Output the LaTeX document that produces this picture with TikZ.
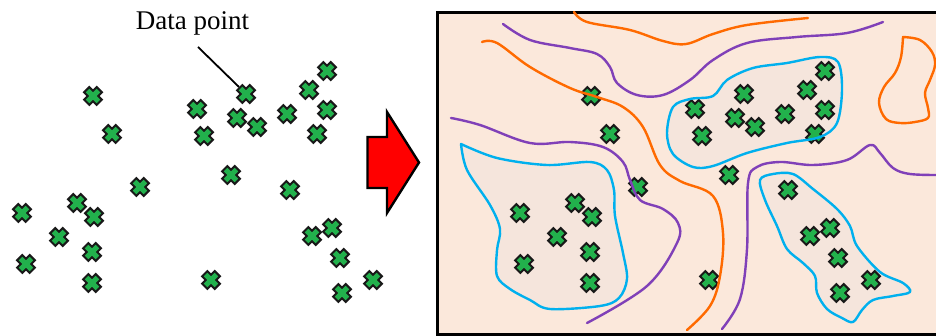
\documentclass[tikz,border=0pt]{standalone}
\usepackage{fontspec}
\setmainfont{Liberation Serif}
\definecolor{ptgreen}{HTML}{22B14C}
\definecolor{panelbg}{HTML}{FBE8DB}
\definecolor{clusterbg}{HTML}{F5E5DC}
\definecolor{bndorange}{HTML}{FF6A00}
\definecolor{bndpurple}{HTML}{8040B8}
\definecolor{bndblue}{HTML}{00B0EE}
\tikzset{
  datapt/.pic={
    \draw[black!90, line width=9.4pt] (-7,-7) -- (7,7) (-7,7) -- (7,-7);
    \draw[ptgreen, line width=5pt] (-5.4,-5.4) -- (5.4,5.4) (-5.4,5.4) -- (5.4,-5.4);
  },
  bnd/.style={line width=2.4pt, line cap=round, line join=round},
  cluster/.style={bnd, draw=bndblue},
}
% scatter positions (x/y, y measured downwards)
\def\ptlist{93/96, 112/134, 197/109, 204/136, 246/94, 237/118, 257/127,
  287/114, 309/90, 327/71, 327/110, 317/134, 140/187, 231/175, 290/190,
  22/213, 77/203, 94/217, 59/237, 92/252, 26/264, 92/283, 211/280,
  312/236, 332/228, 340/258, 373/280, 342/293}
\begin{document}
\begin{tikzpicture}[x=1pt, y=-1pt]
\useasboundingbox (0,0) rectangle (936,336);

% ---- raw data ----
\node[font=\fontsize{27}{30}\selectfont, anchor=base] (lbl) at (192.5,29.3) {Data point};
\foreach \px/\py in \ptlist { \pic at (\px,\py) {datapt}; }
\coordinate (ptend) at (239,87);
\draw[line width=1.8pt] (198,47) -- (ptend);

% ---- arrow ----
\draw[fill=red, line width=2.4pt, line join=miter]
  (367.5,137) -- (387,137) -- (387,112) -- (419,162.5) -- (387,213)
  -- (387,188) -- (367.5,188) -- cycle;

% ---- clustered data ----
\draw[line width=2.8pt, fill=panelbg] (437.5,12.5) rectangle (950,334.5);

% cluster regions
\fill[clusterbg] plot[smooth, tension=0.55] coordinates {(461,144) (497,158) (547,165) (590,162) (607,170) (614,190) (615,216) (623,253) (627,279) (619,298) (600,306) (550,309) (530,300) (510,289) (497,276) (497,250) (500,229) (490,205) (467,170) (461,144)} -- cycle;
\fill[clusterbg] plot[smooth cycle, tension=0.55] coordinates {(673,107) (690,99) (713,96) (727,80) (753,68) (787,63) (820,57) (838,62) (842,90) (837,123) (820,137) (787,143) (747,153) (713,166) (693,167) (673,154) (667,133)};
\fill[clusterbg] plot[smooth cycle, tension=0.55] coordinates {(760,180) (773,174) (793,174) (813,189) (837,209) (850,226) (857,246) (880,272) (903,283) (910,292) (893,296) (873,300) (862,310) (853,322) (842,318) (827,309) (817,293) (815,276) (803,263) (787,249) (777,226) (765,200)};

\foreach \px/\py in \ptlist { \pic at ({\px+498},\py) {datapt}; }

% orange boundaries
\draw[bnd, bndorange] plot[smooth, tension=0.6] coordinates {(574,12) (587,22) (630,30) (663,41) (686,44) (713,34) (747,25) (808,18)};
\draw[bnd, bndorange] plot[smooth, tension=0.6] coordinates {(482,42) (497,43) (530,67) (570,88) (597,97) (623,107) (643,127) (660,165) (680,181) (713,196) (723,233) (720,276) (710,306) (687,330)};
\draw[bnd, bndorange] plot[smooth, tension=0.6] coordinates {(903,37) (920,40) (932,52) (935,65) (930,80) (925,93) (928,108) (928,118) (915,122) (900,123) (886,119) (879,103) (884,87) (895,73) (901,57) (903,37)} -- cycle;

% purple boundaries
\draw[bnd, bndpurple] plot[smooth, tension=0.6] coordinates {(503,24) (530,40) (570,48) (597,54) (610,67) (617,83) (637,95) (663,95) (690,80) (713,60) (747,43) (797,37) (847,33) (883,22)};
\draw[bnd, bndpurple] plot[smooth, tension=0.6] coordinates {(451,118) (480,125) (530,143) (570,142) (603,147) (623,162) (630,180) (640,200) (663,209) (678,223) (677,243) (647,286) (587,323)};
\draw[bnd, bndpurple] plot[smooth, tension=0.6] coordinates {(722,329) (740,299) (747,249) (748,183) (757,167) (780,162) (813,165) (847,160) (870,145) (880,153) (893,168) (910,174) (940,175)};

% cluster outlines
\draw[cluster] plot[smooth, tension=0.55] coordinates {(461,144) (497,158) (547,165) (590,162) (607,170) (614,190) (615,216) (623,253) (627,279) (619,298) (600,306) (550,309) (530,300) (510,289) (497,276) (497,250) (500,229) (490,205) (467,170) (461,144)} -- cycle;
\draw[cluster] plot[smooth cycle, tension=0.55] coordinates {(673,107) (690,99) (713,96) (727,80) (753,68) (787,63) (820,57) (838,62) (842,90) (837,123) (820,137) (787,143) (747,153) (713,166) (693,167) (673,154) (667,133)};
\draw[cluster] plot[smooth cycle, tension=0.55] coordinates {(760,180) (773,174) (793,174) (813,189) (837,209) (850,226) (857,246) (880,272) (903,283) (910,292) (893,296) (873,300) (862,310) (853,322) (842,318) (827,309) (817,293) (815,276) (803,263) (787,249) (777,226) (765,200)};
\end{tikzpicture}
\end{document}
